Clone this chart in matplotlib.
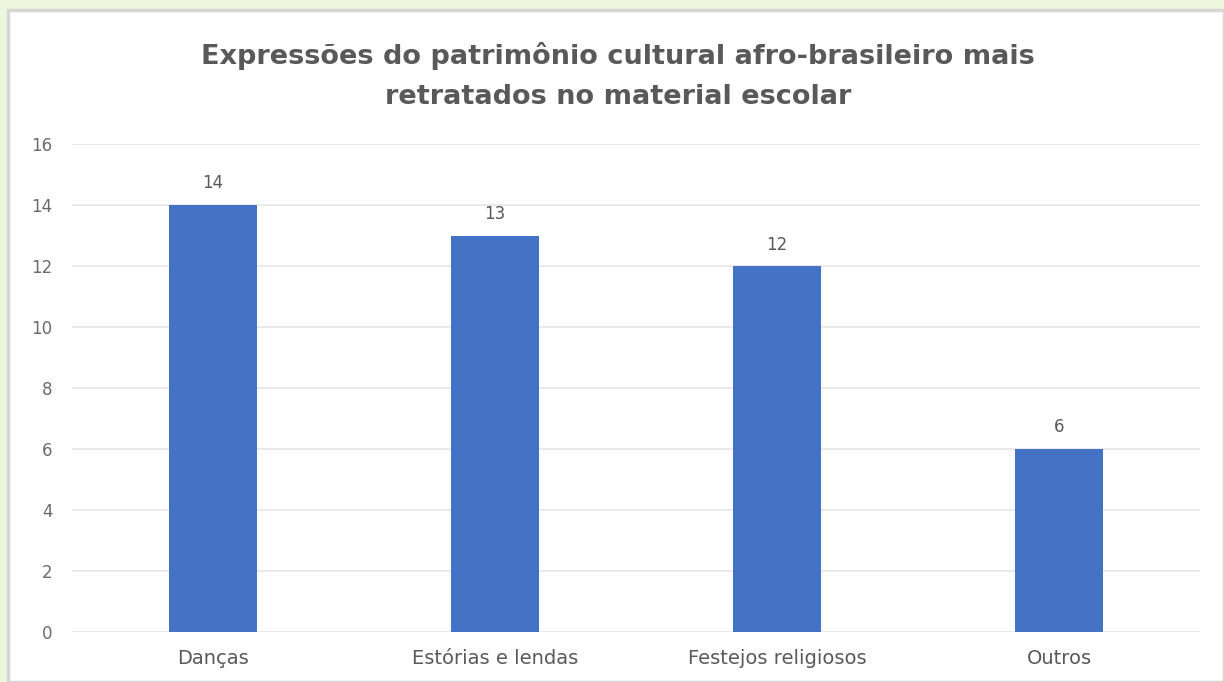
import matplotlib.pyplot as plt
from matplotlib.patches import Rectangle

categories = ["Danças", "Estórias e lendas", "Festejos religiosos", "Outros"]
values = [14, 13, 12, 6]
yticks = [0, 2, 4, 6, 8, 10, 12, 14, 16]
title = "Expressões do patrimônio cultural afro-brasileiro mais\nretratados no material escolar"

plt.rcParams["font.family"] = ["DejaVu Sans"]

W, H = 1224, 682
fig = plt.figure(figsize=(W / 100, H / 100), dpi=100)
fig.patch.set_facecolor("#EEF6DC")

# white chart panel with a soft grey frame
panel = Rectangle((8 / W, 0), 1 - 8 / W, 1 - 10 / H, transform=fig.transFigure,
                  facecolor="white", edgecolor="#D6D6D6", linewidth=2.5, zorder=-5)
fig.add_artist(panel)

ax = fig.add_axes([72 / W, 1 - 632 / H, 1128 / W, 488 / H])
ax.set_zorder(2)
ax.set_facecolor("none")
x = range(len(categories))
ax.bar(x, values, width=0.31, color="#4472C4", zorder=3)
for xi, v in zip(x, values):
    ax.annotate(str(v), (xi, v), xytext=(0, 9), textcoords="offset points",
                ha="center", va="bottom", fontsize=12, color="#595959")

ax.set_xlim(-0.5, len(categories) - 0.5)
ax.set_ylim(0, 16)
ax.set_yticks(yticks)
ax.set_yticklabels([str(t) for t in yticks], fontsize=12, color="#6B6B6B")
ax.set_xticks(list(x))
ax.set_xticklabels(categories, fontsize=14, color="#595959")
ax.tick_params(axis="x", length=0, pad=12)
ax.tick_params(axis="y", length=0, pad=14)
ax.grid(axis="y", color="#E8E8E8", linewidth=1.3, zorder=0)
for s in ax.spines.values():
    s.set_visible(False)

t = fig.text(0.505, 1 - 76 / H, title, ha="center", va="center", fontsize=19.5,
             fontweight="bold", color="#595959", linespacing=1.7)
t.set_zorder(3)

fig.savefig("out.png", dpi=100, facecolor=fig.get_facecolor())
